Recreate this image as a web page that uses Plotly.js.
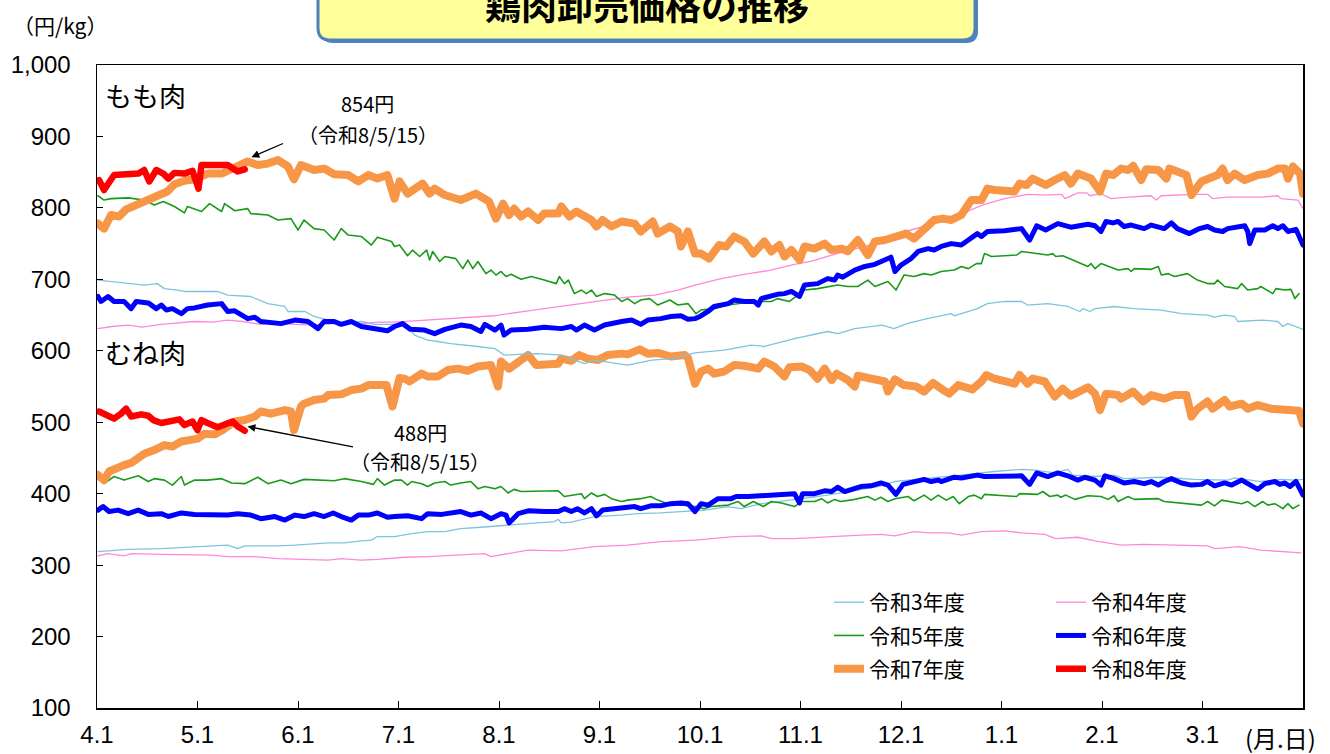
<!DOCTYPE html>
<html><head><meta charset="utf-8">
<script src="https://cdn.plot.ly/plotly-3.0.1.min.js"></script>
<style>
html,body{margin:0;padding:0;background:#fff;}
#chart{width:1330px;height:754px;}
.scatterlayer .js-line{stroke-linejoin:round;stroke-linecap:round;}
</style>
</head><body>
<div id="chart"></div>
<script>
// x positions are in months from April 1 (0 = 4.1, 1 = 5.1, ... 12 = end of March)
const monthTicks = [0,1,2,3,4,5,6,7,8,9,10,11];
const monthLabels = ['4.1','5.1','6.1','7.1','8.1','9.1','10.1','11.1','12.1','1.1','2.1','3.1'];
const seriesNames = ['令和3年度','令和4年度','令和5年度','令和6年度','令和7年度','令和8年度'];

// ---- もも肉 (thigh) ----
const momoR3X = [0.01,0.14,0.31,0.47,0.6,0.67,0.8,0.87,1.2,1.3,1.53,1.7,1.87,1.9,2.07,2.16,2.3,2.5,2.63,2.76,2.96,3.06,3.16,3.29,3.39,3.52,3.79,3.96,4.05,4.38,4.62,4.85,4.95,5.28,5.52,5.72,5.95,6.24,6.51,6.64,6.94,7.27,7.37,7.54,7.81,7.93,8.06,8.26,8.5,8.53,8.76,8.86,9.03,9.2,9.26,9.46,9.66,9.78,9.81,9.88,9.93,10.12,10.32,10.59,10.79,11.05,11.12,11.22,11.32,11.35,11.59,11.75,11.8,11.85,12.0];
const momoR3Y = [699,697,694,692,694,687,685,683,683,678,676,666,662,655,655,648,643,638,641,637,637,638,622,615,613,610,606,603,594,596,594,582,587,580,587,589,597,601,608,606,617,627,624,631,636,631,638,645,652,649,659,666,669,669,664,666,662,655,659,655,659,662,659,657,652,650,647,650,648,641,643,641,634,638,630];

const momoR4X = [0.01,0.15,0.31,0.45,0.64,0.8,0.97,1.15,1.3,1.45,1.63,1.8,1.97,2.15,2.3,2.45,2.63,2.8,2.96,3.29,3.62,3.95,4.29,4.59,4.95,5.28,5.55,5.78,5.95,6.21,6.44,6.67,6.94,7.1,7.34,7.6,7.87,8.07,8.33,8.6,8.83,9.03,9.13,9.26,9.43,9.6,9.63,9.76,9.85,9.88,9.99,10.09,10.26,10.49,10.54,10.59,10.92,11.05,11.1,11.25,11.58,11.75,11.78,11.95,12.0];
const momoR4Y = [631,634,636,633,637,639,641,640,643,641,637,639,637,636,637,639,638,640,640,643,647,649,656,662,669,675,678,685,692,701,707,712,721,725,735,745,755,768,778,792,805,813,816,819,818,819,813,821,821,817,820,813,815,817,811,817,819,819,813,815,815,817,813,811,799];

const momoR5X = [0.01,0.07,0.14,0.31,0.47,0.57,0.66,0.77,0.87,0.9,1.04,1.12,1.24,1.27,1.37,1.5,1.53,1.7,1.8,1.93,2.0,2.06,2.16,2.26,2.36,2.43,2.5,2.63,2.73,2.79,2.93,2.96,3.01,3.09,3.14,3.21,3.28,3.31,3.34,3.41,3.46,3.57,3.64,3.69,3.74,3.79,3.87,3.92,3.97,4.02,4.07,4.12,4.22,4.32,4.45,4.57,4.6,4.65,4.69,4.75,4.82,4.87,4.92,4.97,5.05,5.15,5.22,5.28,5.35,5.41,5.5,5.58,5.7,5.78,5.88,5.96,6.01,6.14,6.28,6.41,6.54,6.71,6.77,6.89,7.04,7.17,7.27,7.37,7.47,7.57,7.67,7.74,7.87,7.95,8.03,8.13,8.23,8.3,8.4,8.53,8.6,8.67,8.75,8.8,8.83,8.9,9.03,9.15,9.2,9.38,9.46,9.51,9.54,9.61,9.79,9.86,9.89,9.93,9.99,10.06,10.16,10.26,10.29,10.32,10.49,10.56,10.59,10.66,10.72,10.85,10.95,11.05,11.12,11.15,11.22,11.35,11.39,11.45,11.55,11.58,11.7,11.73,11.82,11.88,11.92,11.96];
const momoR5Y = [817,811,813,814,811,804,809,802,793,802,795,806,795,806,796,799,792,790,783,785,769,783,771,769,755,771,762,760,748,759,753,746,748,733,741,732,741,727,739,725,732,729,715,727,715,725,708,713,706,711,704,707,700,704,699,694,704,694,699,680,685,680,685,676,680,678,669,673,666,671,673,664,671,664,666,652,657,659,664,666,669,669,673,669,685,687,690,692,690,690,699,690,697,685,706,704,708,706,711,713,718,715,722,722,736,732,733,734,739,736,734,736,732,733,723,718,722,715,722,718,713,715,711,715,714,718,706,708,704,708,699,694,694,699,690,687,694,685,687,690,680,687,685,686,673,680];

const momoR6X = [0.01,0.04,0.11,0.17,0.27,0.34,0.39,0.51,0.59,0.64,0.69,0.75,0.84,0.9,0.97,1.1,1.24,1.3,1.37,1.5,1.57,1.63,1.83,1.97,2.1,2.2,2.26,2.36,2.43,2.53,2.63,2.76,2.89,2.96,3.04,3.12,3.26,3.36,3.46,3.62,3.72,3.82,3.86,3.96,4.02,4.05,4.12,4.29,4.45,4.62,4.72,4.77,4.85,4.95,5.05,5.22,5.32,5.41,5.48,5.61,5.71,5.81,5.88,5.95,6.0,6.08,6.14,6.28,6.34,6.44,6.54,6.58,6.61,6.77,6.84,6.91,6.94,6.99,7.04,7.17,7.27,7.34,7.37,7.42,7.54,7.64,7.74,7.84,7.9,7.94,8.0,8.1,8.17,8.27,8.33,8.4,8.5,8.6,8.7,8.76,8.8,8.86,9.03,9.2,9.28,9.35,9.44,9.56,9.69,9.79,9.86,9.93,9.99,10.04,10.11,10.16,10.22,10.29,10.42,10.49,10.62,10.69,10.75,10.87,10.97,11.05,11.12,11.2,11.25,11.42,11.45,11.47,11.52,11.62,11.7,11.75,11.8,11.85,11.93,12.0];
const momoR6Y = [676,669,676,669,669,659,669,667,659,664,657,659,652,659,660,664,666,655,656,645,647,641,638,643,641,631,641,641,637,641,634,631,628,634,638,630,629,624,630,636,634,627,637,629,636,622,629,630,633,631,634,629,636,629,636,641,643,637,643,645,648,649,644,645,648,655,662,666,671,669,669,664,673,679,680,683,681,676,692,694,701,699,706,703,713,718,721,727,731,711,720,729,739,743,741,746,750,748,757,764,760,767,768,771,755,775,769,778,773,775,777,775,767,781,779,781,774,776,771,776,771,779,771,764,771,774,769,767,771,775,767,750,769,769,775,771,775,767,770,748];

const momoR7X = [0.01,0.07,0.14,0.22,0.29,0.37,0.47,0.59,0.7,0.77,0.87,0.97,1.1,1.24,1.37,1.5,1.6,1.7,1.8,1.9,1.96,2.03,2.16,2.26,2.36,2.5,2.6,2.7,2.79,2.89,2.96,3.01,3.09,3.24,3.31,3.36,3.46,3.62,3.77,3.9,3.97,4.04,4.1,4.15,4.22,4.29,4.39,4.45,4.59,4.62,4.7,4.77,4.92,4.97,5.03,5.12,5.22,5.35,5.41,5.53,5.58,5.7,5.78,5.81,5.88,5.95,6.01,6.09,6.19,6.26,6.34,6.44,6.53,6.64,6.71,6.79,6.84,6.91,6.99,7.04,7.14,7.24,7.31,7.41,7.47,7.57,7.67,7.74,7.84,7.94,8.05,8.13,8.23,8.33,8.42,8.5,8.6,8.7,8.8,8.86,8.93,9.13,9.18,9.25,9.31,9.44,9.53,9.63,9.69,9.76,9.89,9.98,10.04,10.11,10.19,10.26,10.31,10.39,10.44,10.56,10.64,10.67,10.84,10.89,10.99,11.15,11.2,11.25,11.32,11.42,11.55,11.65,11.75,11.82,11.85,11.9,11.97,12.0];
const momoR7Y = [778,771,790,788,798,803,807,815,823,833,838,840,848,848,858,865,860,862,867,858,840,860,853,855,847,846,837,846,841,846,813,837,820,834,820,827,818,811,820,809,785,806,790,799,788,795,783,792,792,802,788,795,783,774,783,774,781,778,767,781,764,774,767,746,767,736,736,729,748,746,760,753,736,753,739,748,732,741,727,746,743,750,741,743,739,755,734,753,755,760,764,757,769,783,785,783,790,811,811,827,825,823,834,832,841,832,839,846,834,848,841,823,848,846,855,853,859,839,854,853,841,855,846,818,837,846,855,839,848,839,846,848,855,855,841,858,848,820];

const momoR8X = [0.02,0.07,0.17,0.31,0.41,0.47,0.52,0.59,0.66,0.71,0.77,0.87,0.95,1.01,1.04,1.17,1.3,1.4,1.47];
const momoR8Y = [839,825,846,848,848,853,837,853,848,841,849,848,852,827,860,860,860,851,854];

// ---- むね肉 (breast) ----
const muneR3X = [0.01,0.31,0.64,0.97,1.3,1.4,1.47,1.8,1.97,2.3,2.46,2.63,2.73,2.79,2.96,3.13,3.29,3.46,3.62,3.82,3.92,4.05,4.29,4.55,4.59,4.62,4.72,4.95,5.22,5.38,5.61,5.95,6.05,6.28,6.41,6.61,6.81,7.01,7.27,7.54,7.77,7.94,8.27,8.6,8.93,9.2,9.33,9.53,9.66,9.71,9.93,10.12,10.22,10.42,10.59,10.92,11.25,11.32,11.58,11.78,11.92,12.0];
const muneR3Y = [319,322,323,326,328,323,327,327,328,331,331,334,335,340,340,344,347,347,351,353,354,356,358,361,364,359,360,368,370,372,373,376,377,382,379,386,389,393,398,405,410,417,421,426,431,434,433,429,434,426,424,426,421,422,423,420,419,422,417,420,419,420];

const muneR4X = [0.01,0.11,0.27,0.34,0.64,0.97,1.14,1.3,1.57,1.8,2.1,2.3,2.43,2.63,2.79,3.06,3.29,3.62,3.86,3.92,4.29,4.62,4.95,5.28,5.61,5.95,6.34,6.61,6.71,6.94,7.27,7.6,7.8,7.94,8.13,8.27,8.47,8.6,8.8,9.03,9.2,9.43,9.54,9.76,9.93,10.19,10.42,10.75,11.05,11.12,11.37,11.58,11.82,11.98];
const muneR4Y = [313,316,313,316,315,314,314,312,312,309,308,307,309,307,308,311,312,314,316,312,321,320,326,328,333,335,340,341,337,337,340,342,343,341,347,345,345,342,347,348,345,343,337,339,334,328,329,328,327,323,326,321,319,317];

const muneR5X = [0.03,0.07,0.17,0.27,0.41,0.51,0.57,0.67,0.75,0.84,0.87,0.97,1.1,1.24,1.34,1.47,1.6,1.7,1.83,1.93,2.06,2.23,2.36,2.46,2.63,2.75,2.79,2.86,2.96,3.03,3.09,3.13,3.23,3.29,3.36,3.46,3.52,3.62,3.72,3.79,3.86,3.96,4.02,4.09,4.15,4.22,4.29,4.59,4.65,4.75,4.82,4.85,4.92,4.98,5.05,5.12,5.22,5.28,5.41,5.51,5.58,5.68,5.81,5.95,6.04,6.11,6.28,6.38,6.44,6.53,6.63,6.71,6.81,6.94,7.01,7.14,7.21,7.27,7.34,7.4,7.54,7.67,7.74,7.8,7.87,7.94,8.07,8.13,8.23,8.3,8.37,8.45,8.52,8.58,8.67,8.73,8.8,8.83,9.03,9.15,9.18,9.36,9.41,9.48,9.56,9.59,9.64,9.73,9.86,9.99,10.06,10.12,10.16,10.26,10.32,10.56,10.62,10.79,10.85,10.99,11.05,11.12,11.19,11.29,11.39,11.45,11.52,11.6,11.65,11.72,11.8,11.85,11.9,11.96];
const muneR5Y = [424,414,424,419,425,417,421,419,412,424,412,419,419,421,415,414,423,414,419,414,420,419,418,421,417,413,421,412,419,419,412,417,414,410,415,417,412,415,417,407,410,407,410,401,406,403,403,404,396,398,400,393,401,396,399,393,389,391,393,396,391,386,384,382,379,382,384,389,382,389,382,389,387,382,389,389,393,387,392,389,392,396,391,395,389,393,396,390,398,391,398,391,396,386,396,398,393,399,397,396,400,399,403,396,398,395,398,392,397,396,392,397,389,396,392,393,389,387,386,384,389,383,391,389,386,389,382,389,384,386,379,386,379,384];

const muneR6X = [0.01,0.06,0.12,0.21,0.31,0.41,0.51,0.64,0.71,0.84,0.97,1.14,1.3,1.4,1.53,1.63,1.77,1.87,1.97,2.06,2.16,2.26,2.35,2.43,2.53,2.6,2.7,2.79,2.89,2.96,3.06,3.09,3.23,3.29,3.43,3.62,3.72,3.82,3.92,4.02,4.07,4.1,4.19,4.29,4.45,4.59,4.65,4.72,4.78,4.85,4.92,4.97,5.03,5.15,5.25,5.35,5.41,5.51,5.61,5.71,5.81,5.88,5.95,6.01,6.08,6.18,6.31,6.36,6.48,6.61,6.74,6.87,6.94,6.99,7.02,7.14,7.24,7.31,7.37,7.44,7.5,7.6,7.7,7.8,7.87,7.95,8.02,8.13,8.23,8.3,8.37,8.4,8.53,8.6,8.7,8.76,8.83,9.03,9.2,9.28,9.35,9.46,9.56,9.66,9.76,9.83,9.93,9.99,10.03,10.12,10.22,10.32,10.42,10.49,10.56,10.62,10.69,10.79,10.89,10.99,11.05,11.12,11.22,11.29,11.39,11.49,11.55,11.62,11.72,11.77,11.82,11.87,11.93,12.0];
const muneR6Y = [377,382,375,377,372,377,371,372,368,373,371,371,370,372,370,365,368,363,370,368,372,368,373,368,363,370,370,373,367,368,370,369,365,372,371,375,370,373,365,372,370,359,372,376,375,375,379,375,379,373,379,369,377,379,382,382,379,383,383,386,387,386,375,386,384,393,393,396,396,397,397,398,400,387,400,400,404,403,409,403,405,410,411,415,412,399,413,417,420,417,419,417,423,422,424,426,424,425,425,413,429,424,429,425,419,423,419,412,425,421,415,417,414,417,412,417,421,415,412,413,417,411,415,412,419,411,406,414,417,413,415,410,417,398];

const muneR7X = [0.01,0.07,0.12,0.21,0.27,0.34,0.41,0.47,0.57,0.67,0.75,0.84,0.92,1.0,1.07,1.17,1.25,1.3,1.37,1.47,1.57,1.63,1.73,1.87,1.93,1.96,2.03,2.06,2.16,2.26,2.3,2.43,2.53,2.63,2.7,2.83,2.88,2.94,3.01,3.06,3.11,3.23,3.29,3.39,3.49,3.59,3.69,3.79,3.92,3.99,4.02,4.1,4.22,4.29,4.37,4.49,4.59,4.62,4.72,4.8,4.88,4.98,5.08,5.22,5.28,5.4,5.48,5.58,5.71,5.85,5.88,5.95,6.01,6.08,6.14,6.24,6.34,6.44,6.58,6.64,6.74,6.84,6.89,7.01,7.09,7.17,7.24,7.31,7.36,7.47,7.54,7.57,7.74,7.84,7.87,7.94,8.03,8.15,8.23,8.32,8.42,8.48,8.57,8.63,8.71,8.8,8.85,8.93,9.13,9.18,9.26,9.31,9.43,9.53,9.61,9.69,9.76,9.86,9.93,9.98,10.04,10.16,10.19,10.31,10.41,10.49,10.62,10.72,10.84,10.89,10.95,11.05,11.1,11.22,11.27,11.39,11.45,11.55,11.68,11.78,11.92,11.96,12.0];
const muneR7Y = [426,419,431,438,440,443,452,456,461,468,466,473,475,477,484,483,489,495,501,503,508,515,512,517,515,489,522,526,531,533,538,539,545,547,552,552,552,522,562,561,557,568,564,564,573,575,572,578,580,550,585,575,587,594,580,581,582,589,586,594,589,587,594,596,595,602,596,597,592,594,590,554,571,575,568,571,580,579,575,585,578,564,577,578,573,561,575,559,568,559,550,565,561,557,543,560,552,550,543,555,545,540,552,550,546,557,566,561,554,566,554,561,557,536,547,537,543,549,540,517,540,538,533,543,529,538,533,538,538,508,519,529,519,531,522,526,519,524,519,518,519,516,498];

const muneR8X = [0.02,0.11,0.17,0.24,0.29,0.34,0.44,0.51,0.56,0.64,0.74,0.82,0.87,0.95,1.0,1.04,1.1,1.2,1.29,1.35,1.4,1.47];
const muneR8Y = [515,508,505,512,519,508,511,509,503,499,503,504,496,501,489,503,499,493,498,501,494,488];

// ---- styling ----
const colors = ['#7CC4DE','#FF88D8','#1A9A1A','#0000FF','#F79646','#FF0000'];
const widths = [1.3,1.3,1.6,5,8,6.5];
const legendOf = ['legend','legend2','legend','legend2','legend','legend2'];

const momoX = [momoR3X,momoR4X,momoR5X,momoR6X,momoR7X,momoR8X];
const momoY = [momoR3Y,momoR4Y,momoR5Y,momoR6Y,momoR7Y,momoR8Y];
const muneX = [muneR3X,muneR4X,muneR5X,muneR6X,muneR7X,muneR8X];
const muneY = [muneR3Y,muneR4Y,muneR5Y,muneR6Y,muneR7Y,muneR8Y];

const traces = [];
for (let i = 0; i < 6; i++) {
  const common = {
    type:'scatter', mode:'lines', name:seriesNames[i], legendgroup:'g'+i,
    legend:legendOf[i], line:{color:colors[i], width:widths[i]}, hoverinfo:'skip'
  };
  traces.push(Object.assign({}, common, {x:muneX[i], y:muneY[i], showlegend:false}));
}
for (let i = 0; i < 6; i++) {
  const common = {
    type:'scatter', mode:'lines', name:seriesNames[i], legendgroup:'g'+i,
    legend:legendOf[i], line:{color:colors[i], width:widths[i]}, hoverinfo:'skip'
  };
  traces.push(Object.assign({}, common, {x:momoX[i], y:momoY[i], showlegend:true}));
}

const jp = '"Noto Sans CJK JP", "Noto Sans", sans-serif';
// pixel->paper helpers for annotation placement
const L = 97, R = 1303, T = 65, B = 708;
const px = v => (v - L) / (R - L);
const py = v => (B - v) / (B - T);

const bx0 = px(318), bx1 = px(975), by0 = py(40), by1 = py(-12);
const rx = 12/(R-L), ry = 12/(B-T);
const boxPath = `M ${bx0+rx},${by0} L ${bx1-rx},${by0} Q ${bx1},${by0} ${bx1},${by0+ry} L ${bx1},${by1} L ${bx0},${by1} L ${bx0},${by0+ry} Q ${bx0},${by0} ${bx0+rx},${by0} Z`;
const sdx = 3/(R-L), sdy = 3/(B-T);
const shadowPath = `M ${bx0+rx+sdx},${by0-sdy} L ${bx1-rx+sdx},${by0-sdy} Q ${bx1+sdx},${by0-sdy} ${bx1+sdx},${by0+ry-sdy} L ${bx1+sdx},${by1} L ${bx0+sdx},${by1} L ${bx0+sdx},${by0+ry-sdy} Q ${bx0+sdx},${by0-sdy} ${bx0+rx+sdx},${by0-sdy} Z`;

const ann = (text, x, y, size, opts) => Object.assign({
  text, x, y, xref:'paper', yref:'paper', showarrow:false,
  font:{family:jp, size, color:'#000'}, xanchor:'center', yanchor:'middle'
}, opts||{});

const layout = {
  width:1330, height:754,
  margin:{l:L, r:1330-R, t:T, b:754-B},
  paper_bgcolor:'#fff', plot_bgcolor:'#fff',
  showlegend:true,
  xaxis:{
    range:[0,12], tickmode:'array', tickvals:monthTicks, ticktext:monthLabels,
    ticks:'inside', ticklen:7, tickwidth:1, tickcolor:'#000',
    showline:true, linecolor:'#000', linewidth:1.5, mirror:true,
    showgrid:false, zeroline:false, ticklabelstandoff:5,
    tickfont:{family:'"Liberation Sans Narrow", "Arial Narrow", "Liberation Sans", Arial, sans-serif', size:24, color:'#000'}
  },
  yaxis:{
    range:[100,1000], tick0:100, dtick:100, tickformat:',d',
    ticks:'inside', ticklen:6, tickwidth:1, tickcolor:'#000',
    showline:true, linecolor:'#000', linewidth:1.5, mirror:true,
    showgrid:false, zeroline:false, ticklabelstandoff:20,
    tickfont:{family:'"Liberation Sans", Arial, sans-serif', size:24, color:'#000'}
  },
  legend:{
    x:px(829), y:py(582), xanchor:'left', yanchor:'top',
    bgcolor:'rgba(0,0,0,0)', borderwidth:0, traceorder:'grouped', tracegroupgap:3,
    font:{family:jp, size:21, color:'#000'}
  },
  legend2:{
    x:px(1051), y:py(582), xanchor:'left', yanchor:'top',
    bgcolor:'rgba(0,0,0,0)', borderwidth:0, traceorder:'grouped', tracegroupgap:3,
    font:{family:jp, size:21, color:'#000'}
  },
  shapes:[
    {type:'path', xref:'paper', yref:'paper', path:shadowPath, fillcolor:'#4F81BD', line:{width:0}, layer:'above'},
    {type:'path', xref:'paper', yref:'paper', path:boxPath, fillcolor:'#FFFF99', line:{color:'#4F81BD', width:3}, layer:'above'}
  ],
  annotations:[
    ann('<b>鶏肉卸売価格の推移</b>', px(647), py(4), 36),
    ann('（円/kg）', px(60), py(25), 21),
    ann('もも肉', px(103), py(95), 27, {xanchor:'left'}),
    ann('むね肉', px(103), py(352), 27, {xanchor:'left'}),
    ann('854円', px(367), py(104), 20),
    ann('（令和8/5/15）', px(368), py(134), 20),
    ann('488円', px(420), py(432), 20),
    ann('（令和8/5/15）', px(420), py(461), 20),
    ann('(月.日)', px(1280), py(738), 24),
    {x:1.537, y:871, ax:1.866, ay:891, xref:'x', yref:'y', axref:'x', ayref:'y', text:'', showarrow:true, arrowhead:2, arrowsize:1.2, arrowwidth:1.3, arrowcolor:'#000'},
    {x:1.4975, y:494, ax:2.562, ay:465, xref:'x', yref:'y', axref:'x', ayref:'y', text:'', showarrow:true, arrowhead:2, arrowsize:1.2, arrowwidth:1.3, arrowcolor:'#000'}
  ]
};

Plotly.newPlot('chart', traces, layout, {displayModeBar:false, staticPlot:true});
</script>
</body></html>
